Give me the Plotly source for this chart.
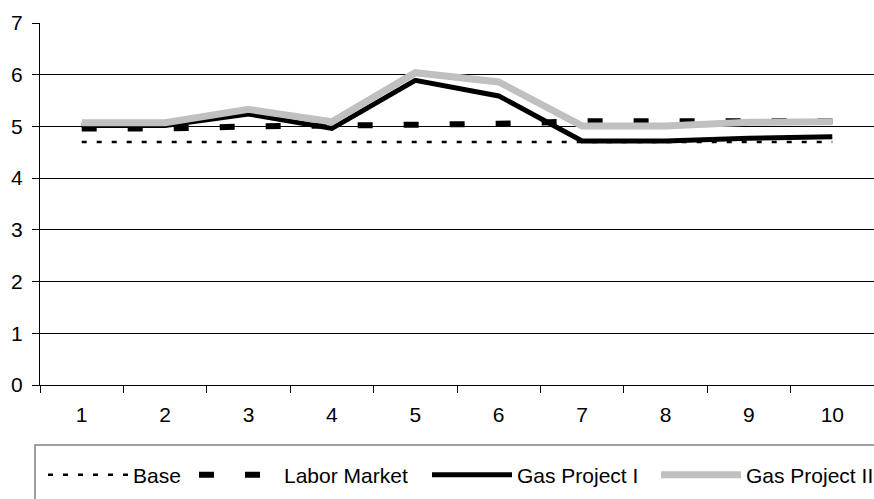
import plotly.graph_objects as go

categories = ["1", "2", "3", "4", "5", "6", "7", "8", "9", "10"]
base = [4.7, 4.7, 4.7, 4.7, 4.7, 4.7, 4.7, 4.7, 4.7, 4.7]
labor_market = [4.96, 4.96, 5.0, 5.01, 5.04, 5.05, 5.1, 5.1, 5.1, 5.1]
gas_project_1 = [5.02, 5.02, 5.24, 4.96, 5.89, 5.59, 4.72, 4.72, 4.77, 4.8]
gas_project_2 = [5.07, 5.07, 5.33, 5.09, 6.04, 5.86, 5.01, 5.01, 5.08, 5.09]
y_ticks = [0, 1, 2, 3, 4, 5, 6, 7]

FONT = "Liberation Sans, Arial, sans-serif"
FS = 21
W, H = 874, 499
L, R, T, B = 40, 0, 23, 114
PW = W - L - R
PH = H - T - B


def px_x(px):
    return (px - L) / PW


def px_y(py):
    return (H - B - py) / PH


fig = go.Figure()
fig.add_trace(go.Scatter(x=categories, y=base, mode="lines", name="Base",
                         line=dict(color="black", width=2.5, dash="5px,10px"),
                         legend="legend"))
fig.add_trace(go.Scatter(x=categories, y=labor_market, mode="lines", name="Labor Market",
                         line=dict(color="black", width=6, dash="15px,31px"),
                         legend="legend2"))
fig.add_trace(go.Scatter(x=categories, y=gas_project_1, mode="lines", name="Gas Project I",
                         line=dict(color="black", width=5),
                         legend="legend3"))
fig.add_trace(go.Scatter(x=categories, y=gas_project_2, mode="lines", name="Gas Project II",
                         line=dict(color="#C0C0C0", width=7),
                         legend="legend4"))

leg_common = dict(yanchor="middle", xanchor="left", y=px_y(475),
                  orientation="h", itemwidth=80, bgcolor="rgba(0,0,0,0)",
                  font=dict(family=FONT, size=FS, color="black"))

fig.update_layout(
    width=W, height=H,
    margin=dict(l=L, r=R, t=T, b=B, pad=0, autoexpand=False),
    paper_bgcolor="white", plot_bgcolor="white",
    font=dict(family=FONT, size=FS, color="black"),
    showlegend=True,
    legend=dict(x=px_x(43), **leg_common),
    legend2=dict(x=px_x(194), **leg_common),
    legend3=dict(x=px_x(427), **leg_common),
    legend4=dict(x=px_x(656), **leg_common),
    xaxis=dict(type="category", categoryorder="array", categoryarray=categories,
               range=[-0.5, 9.5], tickson="boundaries", ticks="outside", ticklen=7,
               tickcolor="black", tickwidth=1, showline=True, linecolor="black",
               linewidth=1, showgrid=False, zeroline=False, ticklabelstandoff=11,
               automargin=False,
               tickfont=dict(family=FONT, size=FS, color="black")),
    yaxis=dict(range=[0, 7], tickvals=y_ticks, ticks="outside", ticklen=7,
               tickcolor="black", tickwidth=1, showline=True, linecolor="black",
               linewidth=1, showgrid=True, gridcolor="black", gridwidth=1,
               zeroline=False, ticklabelstandoff=5, automargin=False,
               tickfont=dict(family=FONT, size=FS, color="black")),
    shapes=[dict(type="rect", xref="paper", yref="paper",
                 x0=px_x(35), x1=px_x(880), y0=px_y(510), y1=px_y(445),
                 line=dict(color="#808080", width=1.5), fillcolor="rgba(0,0,0,0)",
                 layer="below")],
)

fig.write_html(
    "out.html",
    config={"displayModeBar": False},
    post_script="document.body.style.margin='0';document.body.style.padding='0';"
                "document.body.style.overflow='hidden';",
)
